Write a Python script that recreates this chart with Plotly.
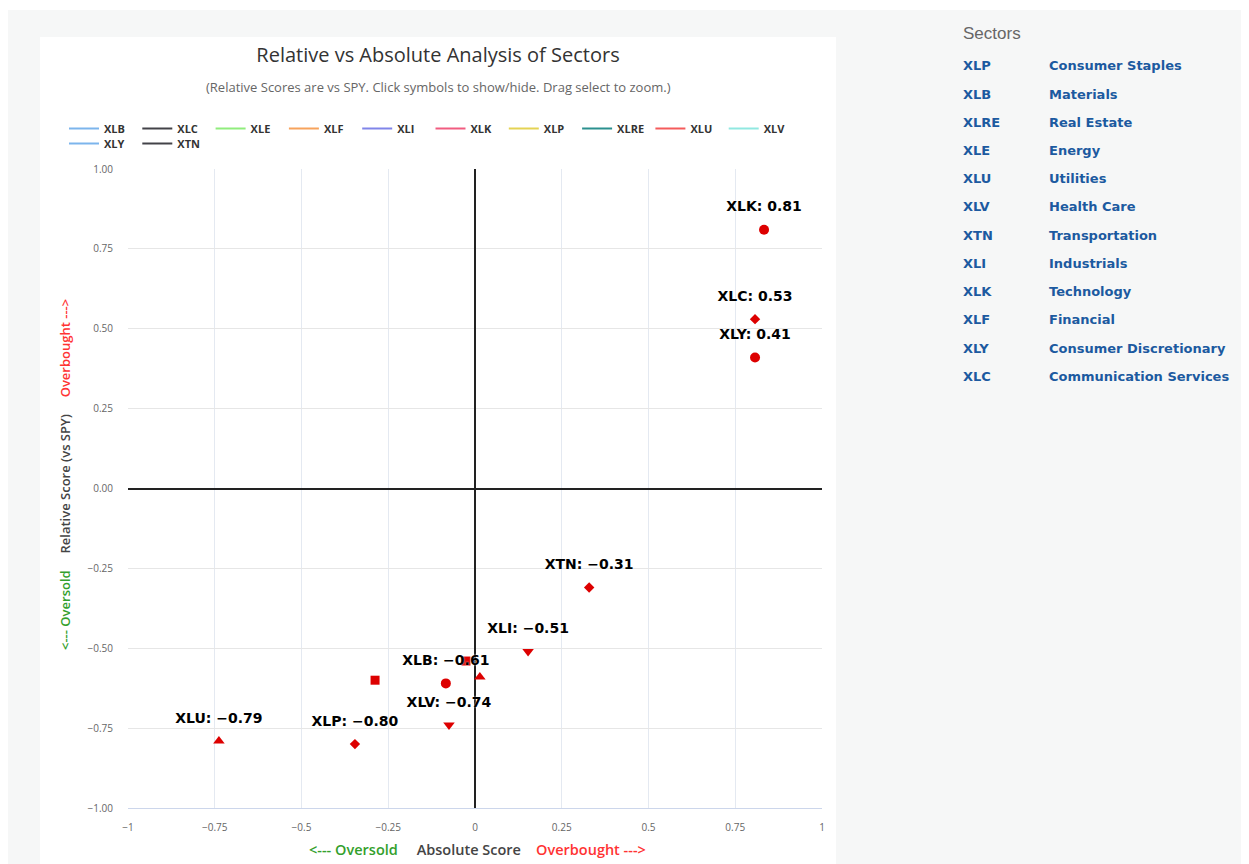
import plotly.graph_objects as go

# ---------------- data ----------------
tickers = ["XLB", "XLC", "XLE", "XLF", "XLI", "XLK", "XLP", "XLRE", "XLU", "XLV", "XLY", "XTN"]
absolute_score = [-0.084, 0.807, -0.288, 0.014, 0.153, 0.833, -0.346, -0.026, -0.738, -0.075, 0.807, 0.329]
relative_score = [-0.61, 0.53, -0.60, -0.59, -0.51, 0.81, -0.80, -0.54, -0.79, -0.74, 0.41, -0.31]
label_shown = [True, True, False, False, True, True, True, False, True, True, True, True]

sector_codes = ["XLP", "XLB", "XLRE", "XLE", "XLU", "XLV", "XTN", "XLI", "XLK", "XLF", "XLY", "XLC"]
sector_names = ["Consumer Staples", "Materials", "Real Estate", "Energy", "Utilities", "Health Care",
                "Transportation", "Industrials", "Technology", "Financial", "Consumer Discretionary",
                "Communication Services"]

x_ticks = [-1, -0.75, -0.5, -0.25, 0, 0.25, 0.5, 0.75, 1]
y_ticks = [-1, -0.75, -0.5, -0.25, 0, 0.25, 0.5, 0.75, 1]

# ---------------- styles ----------------
series_colors = ["#7cb5ec", "#434348", "#90ed7d", "#f7a35c", "#8085e9", "#f15c80",
                 "#e4d354", "#2b908f", "#f45b5b", "#91e8e1", "#7cb5ec", "#434348"]
symbol_cycle = ["circle", "diamond", "square", "triangle-up", "triangle-down"]
symbol_size = {"circle": 10, "diamond": 8, "square": 9, "triangle-up": 10, "triangle-down": 10}
marker_red = "#dd0000"
FONT = "Open Sans"

OFF = 8                      # page body margin of the html page
W, H = 1249 - OFF, 864 - OFF
# plot area in page pixels
PL, PR, PT, PB = 128, 822, 169, 808
pw, ph = PR - PL, PB - PT


def px_x(px):
    return (px - PL) / pw


def px_y(py):
    return (PB - py) / ph


def fmt(v):
    return f"{v:.2f}".replace("-", "\u2212")


fig = go.Figure()

# legend-only line entries (two rows: legend and legend2)
for i, t in enumerate(tickers):
    fig.add_trace(go.Scatter(
        x=[None], y=[None], mode="lines", name=t, legendgroup=t,
        legend="legend" if i < 10 else "legend2",
        line=dict(color=series_colors[i], width=2), hoverinfo="skip"))

# markers
for i, t in enumerate(tickers):
    sym = symbol_cycle[i % len(symbol_cycle)]
    fig.add_trace(go.Scatter(
        x=[absolute_score[i]], y=[relative_score[i]],
        mode="markers", name=t, legendgroup=t, showlegend=False,
        marker=dict(symbol=sym, size=symbol_size[sym], color=marker_red, line=dict(width=0)),
        hovertemplate=f"{t}<br>Absolute: %{{x:.2f}}<br>Relative: %{{y:.2f}}<extra></extra>"))

# data labels (invisible larger marker gives the label offset)
for i, t in enumerate(tickers):
    if not label_shown[i]:
        continue
    fig.add_trace(go.Scatter(
        x=[absolute_score[i]], y=[relative_score[i]],
        mode="markers+text", name=t, legendgroup=t, showlegend=False,
        marker=dict(size=22, opacity=0, color=marker_red),
        text=[f"{t}: {fmt(relative_score[i])}"],
        textposition="top center",
        textfont=dict(family="DejaVu Sans", size=14, color="#000000", weight="bold",
                      shadow="0px 0px 2px #ffffff"),
        hoverinfo="skip"))

shapes = [
    dict(type="rect", xref="paper", yref="paper", layer="below",
         x0=px_x(OFF), x1=px_x(W + OFF), y0=px_y(10), y1=px_y(OFF),
         fillcolor="#ffffff", line=dict(width=0)),
    dict(type="rect", xref="paper", yref="paper", layer="below",
         x0=px_x(40), x1=px_x(836), y0=px_y(H + OFF), y1=px_y(37),
         fillcolor="#ffffff", line=dict(width=0)),
]

annotations = [
    dict(text="(Relative Scores are vs SPY. Click symbols to show/hide. Drag select to zoom.)",
         xref="paper", yref="paper", x=px_x(438), y=px_y(87), showarrow=False,
         xanchor="center", yanchor="middle", font=dict(family=FONT, size=13, color="#666666")),
    dict(text='<span style="color:#33a02c">&lt;--- Oversold</span>' + "&nbsp;" * 5 +
              '<span style="color:#444444">Absolute Score</span>' + "&nbsp;" * 4 +
              '<span style="color:#ff3333">Overbought ---&gt;</span>',
         xref="paper", yref="paper", x=px_x(477), y=px_y(849), showarrow=False,
         xanchor="center", yanchor="middle", font=dict(family=FONT, size=14.5, weight=600)),
    dict(text='<span style="color:#33a02c">&lt;--- Oversold</span>' + "&nbsp;" * 5 +
              '<span style="color:#444444">Relative Score (vs SPY)</span>' + "&nbsp;" * 5 +
              '<span style="color:#ff3333">Overbought ---&gt;</span>',
         xref="paper", yref="paper", x=px_x(65), y=px_y(475), showarrow=False,
         textangle=-90, xanchor="center", yanchor="middle",
         font=dict(family=FONT, size=13, weight=600)),
    dict(text="Sectors", xref="paper", yref="paper", x=px_x(961), y=px_y(33),
         showarrow=False, xanchor="left", yanchor="middle",
         font=dict(family="Liberation Sans", size=17, color="#666666")),
]
for k, (c, n) in enumerate(zip(sector_codes, sector_names)):
    yy = px_y(66 + 28.2 * k)
    annotations.append(dict(text=c, xref="paper", yref="paper", x=px_x(961), y=yy,
                            showarrow=False, xanchor="left", yanchor="middle",
                            font=dict(family="DejaVu Sans", size=13, color="#1c5aa0", weight="bold")))
    annotations.append(dict(text=n, xref="paper", yref="paper", x=px_x(1047), y=yy,
                            showarrow=False, xanchor="left", yanchor="middle",
                            font=dict(family="DejaVu Sans", size=13, color="#1c5aa0", weight="bold")))

legend_style = dict(orientation="h", xanchor="left", yanchor="top",
                    entrywidth=28.3, entrywidthmode="pixels", bgcolor="rgba(0,0,0,0)",
                    font=dict(family=FONT, size=11, color="#333333", weight="bold"),
                    tracegroupgap=0, itemclick="toggle")

fig.update_layout(
    width=W, height=H,
    margin=dict(l=PL - OFF, r=W + OFF - PR, t=PT - OFF, b=H + OFF - PB, pad=0),
    paper_bgcolor="#f6f7f7",
    plot_bgcolor="rgba(0,0,0,0)",
    font=dict(family=FONT, color="#333333"),
    title=dict(text="Relative vs Absolute Analysis of Sectors", xref="container", yref="container",
               x=(438 - OFF) / W, y=1 - (55 - OFF) / H, xanchor="center", yanchor="middle",
               font=dict(family=FONT, size=20, color="#333333")),
    showlegend=True,
    legend=dict(x=px_x(64), y=px_y(114), **legend_style),
    legend2=dict(x=px_x(64), y=px_y(129), **legend_style),
    xaxis=dict(range=[-1, 1], tickvals=x_ticks, showgrid=True, gridcolor="#e4e9f1", gridwidth=1,
               zeroline=True, zerolinecolor="#222222", zerolinewidth=2,
               showline=True, linecolor="#ccd6eb", linewidth=1,
               tickfont=dict(family=FONT, size=10, color="#666666"), ticks="",
               ticklabelstandoff=10),
    yaxis=dict(range=[-1, 1], tickvals=y_ticks, tickformat=".2f", showgrid=True,
               gridcolor="#e6e6e6", gridwidth=1,
               zeroline=True, zerolinecolor="#222222", zerolinewidth=2,
               showline=False, tickfont=dict(family=FONT, size=10, color="#666666"), ticks="",
               ticklabelstandoff=14),
    shapes=shapes,
    annotations=annotations,
    dragmode="zoom",
)

fig.write_html("out.html", config={"displayModeBar": False})
